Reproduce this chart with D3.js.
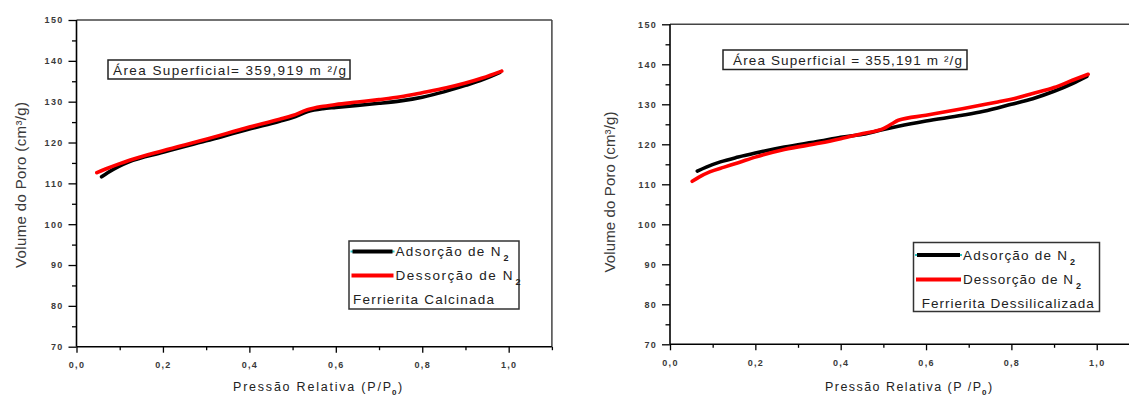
<!DOCTYPE html>
<html>
<head>
<meta charset="utf-8">
<script src="https://cdn.jsdelivr.net/npm/d3@7"></script>
<style>
  body { margin: 0; background: #fff; }
  svg { display: block; }
  text { font-family: "Liberation Sans", Arial, sans-serif; }
</style>
</head>
<body>
<script>
// ---- data ----
var xTicks = [0, 0.2, 0.4, 0.6, 0.8, 1.0];
var yTicks = [70, 80, 90, 100, 110, 120, 130, 140, 150];

// Ferrierita Calcinada
var calcAdsP = [0.058, 0.072, 0.097, 0.12, 0.2, 0.3, 0.4, 0.47, 0.5, 0.535, 0.57, 0.6, 0.65, 0.7, 0.75, 0.8, 0.85, 0.9, 0.94, 0.98];
var calcAdsV = [111.6, 112.6, 114.1, 115.2, 117.6, 120.4, 123.3, 125.2, 126.1, 127.6, 128.3, 128.6, 129.1, 129.6, 130.2, 131.1, 132.4, 134.0, 135.4, 137.2];
var calcDesP = [0.047, 0.072, 0.097, 0.121, 0.2, 0.3, 0.4, 0.47, 0.5, 0.534, 0.567, 0.6, 0.65, 0.7, 0.75, 0.8, 0.856, 0.898, 0.939, 0.984];
var calcDesV = [112.6, 113.7, 114.7, 115.6, 118.0, 120.8, 123.8, 125.7, 126.6, 128.0, 128.8, 129.3, 129.9, 130.5, 131.2, 132.2, 133.4, 134.5, 135.8, 137.5];

// Ferrierita Dessilicalizada
var dessAdsP = [0.064, 0.085, 0.118, 0.16, 0.2, 0.268, 0.352, 0.4, 0.452, 0.5, 0.535, 0.6, 0.685, 0.735, 0.8, 0.85, 0.9, 0.943, 0.977];
var dessAdsV = [113.3, 114.3, 115.6, 116.8, 117.8, 119.3, 120.8, 121.75, 122.5, 123.7, 124.5, 125.8, 127.25, 128.25, 130.0, 131.4, 133.25, 135.2, 137.0];
var dessDesP = [0.052, 0.068, 0.093, 0.127, 0.16, 0.2, 0.268, 0.352, 0.4, 0.452, 0.5, 0.518, 0.535, 0.6, 0.685, 0.768, 0.8, 0.85, 0.9, 0.943, 0.98];
var dessDesV = [110.75, 111.8, 113.1, 114.3, 115.4, 116.8, 118.7, 120.3, 121.4, 122.7, 123.9, 125.0, 126.0, 127.25, 128.9, 130.6, 131.25, 132.7, 134.2, 136.0, 137.5];

var legendLabels = ["Adsorção de N", "Dessorção de N"];
var areaLabels = ["Área Superficial= 359,919 m ²/g", "Área Superficial = 355,191 m ²/g"];
var sampleNames = ["Ferrierita Calcinada", "Ferrierita Dessilicalizada"];

var svg = d3.select("body").append("svg")
  .attr("width", 1129).attr("height", 396);

function zip(p, v) {
  return p.map(function(d, i) { return {p: d, v: v[i]}; });
}

function fmt(d) { return d3.format(".1f")(d).replace(".", ","); }

var panels = [
  {x0: 76.5, x1: 551.9, yTop: 20, yBot: 346.7,
   ads: zip(calcAdsP, calcAdsV), des: zip(calcDesP, calcDesV),
   area: areaLabels[0], name: sampleNames[0],
   box: [108, 60, 350, 79], areaText: [113, 75, 233],
   yLab: [25.5, 185, 166], xLab: [233, 391, 158, "(P/P"],
   leg: [349, 241, 519, 309], legY: [251.5, 275.5], legText: [395.5, 256, 280, 105, 117],
   nameText: [353, 304, 141]},
  {x0: 670, x1: 1139.4, yTop: 24.3, yBot: 344.3,
   ads: zip(dessAdsP, dessAdsV), des: zip(dessDesP, dessDesV),
   area: areaLabels[1], name: sampleNames[1],
   box: [723, 50, 967, 69.5], areaText: [733, 65, 229],
   yLab: [615, 192, 161], xLab: [825, 391, 156, "(P /P"],
   leg: [913.5, 242.5, 1099.5, 311.5], legY: [255, 279.5], legText: [963, 259.5, 283.5, 104, 110],
   nameText: [921.7, 307.5, 172]}
];

panels.forEach(function(c) {
  var g = svg.append("g");
  var x = d3.scaleLinear().domain([0, 1.1]).range([c.x0, c.x1]);
  var y = d3.scaleLinear().domain([70, 150]).range([c.yBot, c.yTop]);

  // minor ticks
  g.append("g").attr("transform", "translate(0," + c.yBot + ")")
    .call(d3.axisBottom(x).tickValues([0.1, 0.3, 0.5, 0.7, 0.9, 1.1]).tickSize(3.5).tickFormat(""))
    .call(function(a) { a.select(".domain").remove(); a.selectAll("line").attr("stroke", "#000").attr("stroke-width", 1.3); });
  g.append("g").attr("transform", "translate(" + c.x0 + ",0)")
    .call(d3.axisLeft(y).tickValues([75, 85, 95, 105, 115, 125, 135, 145]).tickSize(4.5).tickFormat(""))
    .call(function(a) { a.select(".domain").remove(); a.selectAll("line").attr("stroke", "#000").attr("stroke-width", 1.3); });

  // major ticks
  g.append("g").attr("transform", "translate(0," + c.yBot + ")")
    .call(d3.axisBottom(x).tickValues(xTicks).tickSize(6).tickPadding(9).tickFormat(fmt))
    .call(function(a) {
      a.select(".domain").remove();
      a.selectAll("line").attr("stroke", "#000").attr("stroke-width", 1.3);
      a.selectAll("text").attr("font-size", 9).attr("font-weight", "bold")
        .attr("fill", "#3a3a3a").style("letter-spacing", "1.3px")
        .attr("font-family", "Liberation Sans, Arial, sans-serif");
    });
  g.append("g").attr("transform", "translate(" + c.x0 + ",0)")
    .call(d3.axisLeft(y).tickValues(yTicks).tickSize(8).tickPadding(5))
    .call(function(a) {
      a.select(".domain").remove();
      a.selectAll("line").attr("stroke", "#000").attr("stroke-width", 1.3);
      a.selectAll("text").attr("font-size", 9).attr("font-weight", "bold")
        .attr("fill", "#3a3a3a").style("letter-spacing", "1.3px")
        .attr("font-family", "Liberation Sans, Arial, sans-serif");
    });

  // frame
  g.append("line").attr("x1", c.x0).attr("x2", c.x1).attr("y1", c.yTop).attr("y2", c.yTop)
    .attr("stroke", "#444").attr("stroke-width", 1.5);
  g.append("line").attr("x1", c.x1).attr("x2", c.x1).attr("y1", c.yTop).attr("y2", c.yBot)
    .attr("stroke", "#444").attr("stroke-width", 1.5);
  g.append("line").attr("x1", c.x0).attr("x2", c.x0).attr("y1", c.yTop).attr("y2", c.yBot)
    .attr("stroke", "#000").attr("stroke-width", 1.6);
  g.append("line").attr("x1", c.x0).attr("x2", c.x1).attr("y1", c.yBot).attr("y2", c.yBot)
    .attr("stroke", "#000").attr("stroke-width", 1.6);

  // curves
  var line = d3.line().x(function(d) { return x(d.p); }).y(function(d) { return y(d.v); })
    .curve(d3.curveMonotoneX);
  g.append("path").datum(c.ads).attr("d", line).attr("fill", "none")
    .attr("stroke", "#000").attr("stroke-width", 3.6).attr("stroke-linecap", "round");
  g.append("path").datum(c.des).attr("d", line).attr("fill", "none")
    .attr("stroke", "#f00").attr("stroke-width", 3.6).attr("stroke-linecap", "round");

  // area annotation
  g.append("rect").attr("x", c.box[0]).attr("y", c.box[1])
    .attr("width", c.box[2] - c.box[0]).attr("height", c.box[3] - c.box[1])
    .attr("fill", "#fff").attr("stroke", "#222").attr("stroke-width", 1.5);
  g.append("text").attr("x", c.areaText[0]).attr("y", c.areaText[1])
    .attr("font-size", 13.5).attr("fill", "#222")
    .attr("textLength", c.areaText[2]).attr("lengthAdjust", "spacing")
    .text(c.area);

  // legend
  g.append("rect").attr("x", c.leg[0]).attr("y", c.leg[1])
    .attr("width", c.leg[2] - c.leg[0]).attr("height", c.leg[3] - c.leg[1])
    .attr("fill", "#fff").attr("stroke", "#333").attr("stroke-width", 1.5);
  var lx0 = c.leg[0] + 2.5, lx1 = c.legText[0] - 2;
  g.append("line").attr("x1", lx0 - 1).attr("x2", lx1 + 1).attr("y1", c.legY[0]).attr("y2", c.legY[0])
    .attr("stroke", "#2cc4c4").attr("stroke-width", 2);
  g.append("line").attr("x1", lx0 + 1).attr("x2", lx1 - 1).attr("y1", c.legY[0]).attr("y2", c.legY[0])
    .attr("stroke", "#000").attr("stroke-width", 3.8);
  g.append("line").attr("x1", lx0).attr("x2", lx1).attr("y1", c.legY[1]).attr("y2", c.legY[1])
    .attr("stroke", "#f00").attr("stroke-width", 3.8);
  [0, 1].forEach(function(i) {
    var by = c.legText[1 + i];
    var w = c.legText[3 + i];
    g.append("text").attr("x", c.legText[0]).attr("y", by)
      .attr("font-size", 13.5).attr("fill", "#222")
      .attr("textLength", w).attr("lengthAdjust", "spacing")
      .text(legendLabels[i]);
    g.append("text").attr("x", c.legText[0] + w + 3).attr("y", by + 5)
      .attr("font-size", 9).attr("font-weight", "bold").attr("fill", "#222").text("2");
  });
  g.append("text").attr("x", c.nameText[0]).attr("y", c.nameText[1])
    .attr("font-size", 13.5).attr("fill", "#222")
    .attr("textLength", c.nameText[2]).attr("lengthAdjust", "spacing")
    .text(c.name);

  // axis titles
  g.append("text")
    .attr("transform", "translate(" + c.yLab[0] + "," + c.yLab[1] + ") rotate(-90)")
    .attr("text-anchor", "middle").attr("font-size", 15).attr("fill", "#3a3a3a")
    .attr("textLength", c.yLab[2]).attr("lengthAdjust", "spacing")
    .text("Volume do Poro (cm³/g)");
  var xl = g.append("text").attr("x", c.xLab[0]).attr("y", c.xLab[1])
    .attr("font-size", 12.5).attr("fill", "#222")
    .attr("textLength", c.xLab[2]).attr("lengthAdjust", "spacing")
    .text("Pressão Relativa " + c.xLab[3]);
  g.append("text").attr("x", c.xLab[0] + c.xLab[2] + 1).attr("y", c.xLab[1] + 4)
    .attr("font-size", 8).attr("font-weight", "bold").attr("fill", "#222").text("0");
  g.append("text").attr("x", c.xLab[0] + c.xLab[2] + 7).attr("y", c.xLab[1])
    .attr("font-size", 12.5).attr("fill", "#222").text(")");
});
</script>
</body>
</html>
